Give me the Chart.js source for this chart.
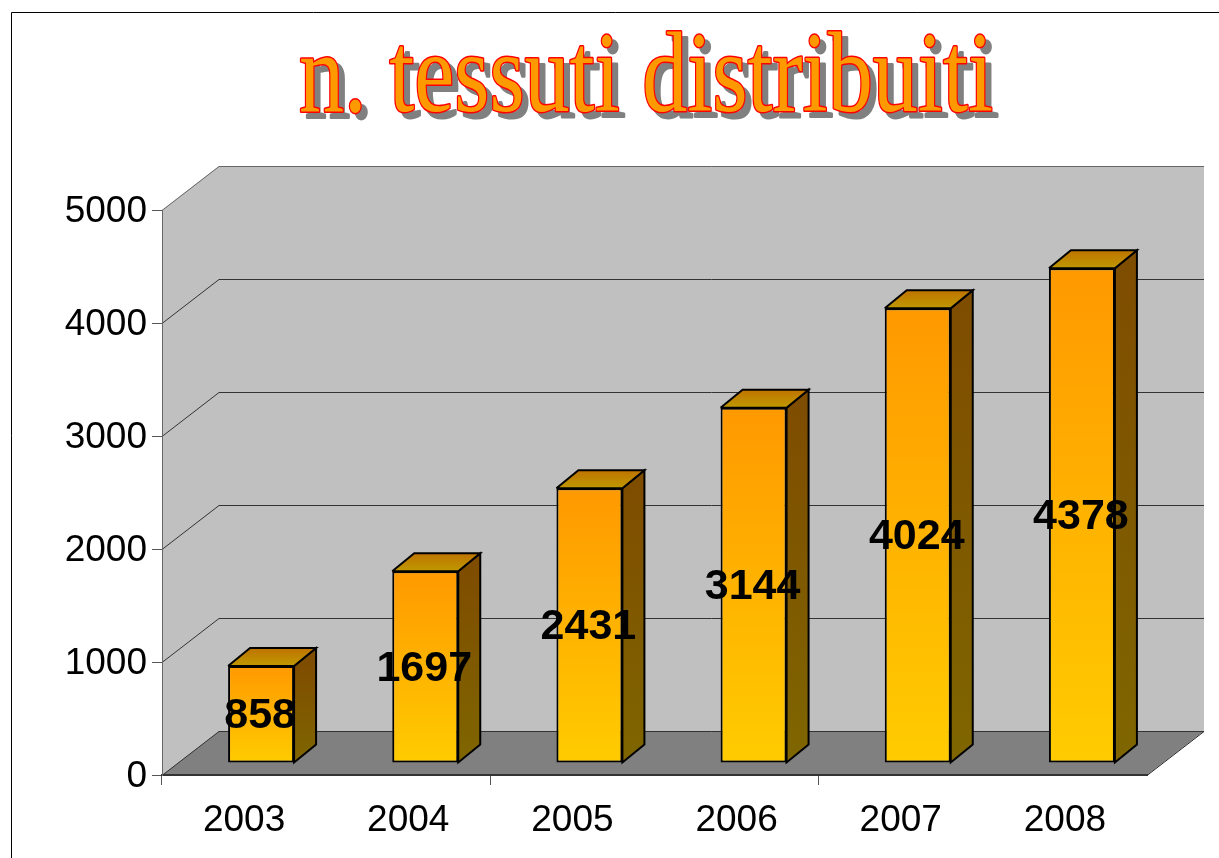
<!DOCTYPE html>
<html>
<head>
<meta charset="utf-8">
<title>n. tessuti distribuiti</title>
<script src="https://cdn.jsdelivr.net/npm/chart.js@4/dist/chart.umd.min.js"></script>
<style>
  html, body { margin: 0; padding: 0; background: #fff; overflow: hidden; }
  #wrap { position: absolute; left: 0; top: 0; width: 1219px; height: 858px; }
</style>
</head>
<body>
<div id="wrap"><canvas id="chart" width="1219" height="858"></canvas></div>
<script>
const titleText = "n. tessuti distribuiti";
const years = ["2003", "2004", "2005", "2006", "2007", "2008"];
const tessuti = [858, 1697, 2431, 3144, 4024, 4378];
const yTicks = [0, 1000, 2000, 3000, 4000, 5000];

// depth of the fake 3d box and of the bars standing in it
const wallDx = 57, wallDy = 44;
const barDx = 17, barDy = 12;
const sideDx = 22, sideDy = 18;

const line = (ctx, pts, color, width) => {
  ctx.beginPath();
  pts.forEach((p, i) => i ? ctx.lineTo(p[0], p[1]) : ctx.moveTo(p[0], p[1]));
  ctx.strokeStyle = color;
  ctx.lineWidth = width;
  ctx.stroke();
};

const poly = (ctx, pts, fill) => {
  ctx.beginPath();
  pts.forEach((p, i) => i ? ctx.lineTo(p[0], p[1]) : ctx.moveTo(p[0], p[1]));
  ctx.closePath();
  ctx.fillStyle = fill;
  ctx.fill();
};

const vGrad = (ctx, y0, y1, c0, c1) => {
  const g = ctx.createLinearGradient(0, y0, 0, y1);
  g.addColorStop(0, c0);
  g.addColorStop(1, c1);
  return g;
};

const framePlugin = {
  id: "frame",
  beforeDraw(chart) {
    const { ctx, chartArea: a, scales } = chart;
    const y = scales.y;
    ctx.save();
    // slide border
    line(ctx, [[11.5, 858], [11.5, 12.5], [1219, 12.5]], "#000", 1);

    // walls
    poly(ctx, [[a.left, a.top], [a.left + wallDx, a.top - wallDy], [a.right + wallDx, a.top - wallDy], [a.right + wallDx, a.bottom - wallDy], [a.left + wallDx, a.bottom - wallDy], [a.left, a.bottom]], "#c0c0c0");
    // floor
    poly(ctx, [[a.left, a.bottom], [a.left + wallDx, a.bottom - wallDy], [a.right + wallDx, a.bottom - wallDy], [a.right, a.bottom]], "#808080");

    yTicks.forEach(v => {
      const py = Math.round(y.getPixelForValue(v)) + 0.5;
      line(ctx, [[a.left, py], [a.left + wallDx, py - wallDy], [a.right + wallDx, py - wallDy]], v === 5000 ? "#666" : "#333", 1);
    });
    line(ctx, [[a.right, a.bottom + 0.5], [a.right + wallDx, a.bottom - wallDy + 0.5]], "#222", 1);
    ctx.restore();
  }
};

const bars3dPlugin = {
  id: "bars3d",
  beforeDatasetDraw(chart, args) {
    const { ctx } = chart;
    const meta = args.meta;
    ctx.save();
    ctx.lineJoin = "miter";
    meta.data.forEach(bar => {
      const half = bar.width / 2;
      const l = bar.x - half + barDx, r = bar.x + half + barDx;
      const t = bar.y - barDy, b = bar.base - barDy;
      const side = [[r, t], [r + sideDx, t - sideDy], [r + sideDx, b - sideDy], [r, b]];
      const top = [[l, t], [l + sideDx, t - sideDy], [r + sideDx, t - sideDy], [r, t]];
      poly(ctx, side, vGrad(ctx, t, b, "#7f4d00", "#7f6600"));
      line(ctx, side.concat([side[0]]), "#000", 2);
      poly(ctx, top, vGrad(ctx, t - sideDy, t, "#bf7300", "#bf9900"));
      line(ctx, top.concat([top[0]]), "#000", 2);
    });
    ctx.restore();
    // front faces are the library's own bars, moved into the box
    ctx.save();
    ctx.translate(barDx, -barDy);
  },
  afterDatasetDraw(chart) {
    chart.ctx.restore();
  },
  afterDatasetsDraw(chart) {
    const { ctx } = chart;
    const meta = chart.getDatasetMeta(0);
    ctx.save();
    ctx.font = "bold 43px 'Liberation Sans'";
    ctx.fillStyle = "#000";
    ctx.textAlign = "center";
    ctx.textBaseline = "middle";
    meta.data.forEach((bar, i) => {
      ctx.fillText(String(tessuti[i]), bar.x + barDx - 1, (bar.y + bar.base) / 2 - barDy + 2);
    });
    ctx.restore();
  }
};

// word-art style title, stretched to the box it has in the picture
const wordArtPlugin = {
  id: "wordArt",
  afterDraw(chart) {
    const { ctx } = chart;
    ctx.save();
    ctx.font = "114px 'Liberation Serif'";
    const w = ctx.measureText(titleText).width;
    ctx.textBaseline = "alphabetic";
    ctx.lineJoin = "round";
    const draw = (x, y, stroke, fill) => {
      ctx.save();
      ctx.translate(x, y);
      ctx.scale(694 / w, 1);
      if (stroke) {
        ctx.strokeStyle = stroke;
        ctx.lineWidth = 3;
        ctx.strokeText(titleText, 0, 0);
      }
      ctx.fillStyle = fill;
      ctx.fillText(titleText, 0, 0);
      ctx.restore();
    };
    draw(305, 117, "#808080", "#808080");
    draw(299, 111, "#ff0000", "#ff9900");
    ctx.restore();
  }
};

new Chart(document.getElementById("chart"), {
  type: "bar",
  data: {
    labels: years,
    datasets: [{
      data: tessuti,
      clip: false,
      borderColor: "#000",
      borderWidth: 2,
      borderSkipped: false,
      barPercentage: 0.402,
      categoryPercentage: 1,
      backgroundColor: (c) => {
        const y = c.chart.scales.y;
        const y0 = y.getPixelForValue(c.raw), y1 = y.getPixelForValue(0);
        if (!Number.isFinite(y0) || !Number.isFinite(y1)) return "#ff9900";
        return vGrad(c.chart.ctx, y0, y1, "#ff9900", "#ffcc00");
      }
    }]
  },
  options: {
    responsive: false,
    animation: false,
    layout: { padding: { top: 210, right: 72, left: 0, bottom: 0 } },
    plugins: { legend: { display: false }, tooltip: { enabled: false }, title: { display: false } },
    scales: {
      x: {
        afterFit: (s) => { s.height = 83; },
        border: { color: "#333", width: 2 },
        grid: {
          drawOnChartArea: false,
          tickLength: 10,
          tickColor: (c) => (c.index % 2 === 0 ? "#555" : "rgba(0,0,0,0)")
        },
        ticks: { color: "#000", font: { family: "'Liberation Sans'", size: 37 }, padding: 14, maxRotation: 0, autoSkip: false }
      },
      y: {
        min: 0,
        max: 5000,
        afterFit: (s) => { s.width = 162; },
        afterBuildTicks: (s) => { s.ticks = yTicks.map(v => ({ value: v })); },
        border: { color: "#666", width: 1 },
        grid: { drawOnChartArea: false, tickLength: 10, tickColor: "#555" },
        ticks: { color: "#000", font: { family: "'Liberation Sans'", size: 37 }, padding: 5, labelOffset: 2, callback: (v) => String(v) }
      }
    }
  },
  plugins: [framePlugin, bars3dPlugin, wordArtPlugin]
});
</script>
</body>
</html>
